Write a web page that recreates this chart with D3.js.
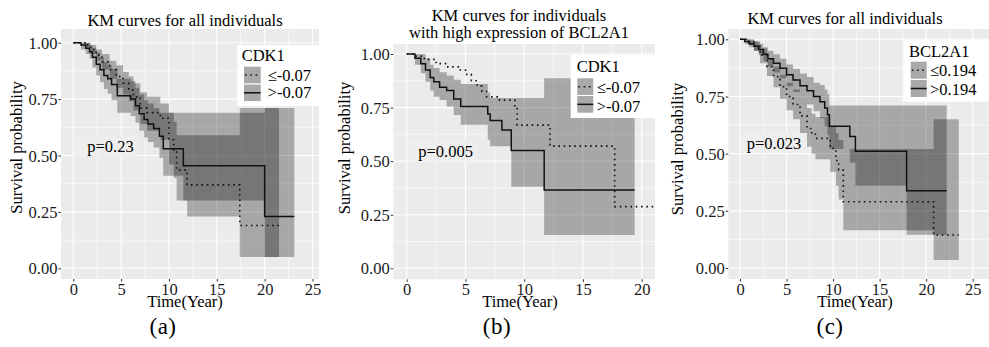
<!DOCTYPE html>
<html>
<head>
<meta charset="utf-8">
<script src="https://cdn.jsdelivr.net/npm/d3@7"></script>
<style>
  body { margin: 0; background: #fff; }
  svg { display: block; font-family: "Liberation Serif", "Times New Roman", serif; }
</style>
</head>
<body>
<svg id="chart" width="989" height="347"></svg>
<script>
// (a) CDK1 split, all individuals
const aLowT  = [0, 1.2, 1.8, 2.4, 3.0, 3.8, 4.5, 5.2, 5.8, 6.3, 7.0, 7.7, 9.1, 10.0, 10.5, 10.8, 11.9, 17.4];
const aLowS  = [1, 0.99, 0.97, 0.945, 0.915, 0.88, 0.85, 0.82, 0.79, 0.76, 0.71, 0.69, 0.665, 0.57, 0.525, 0.435, 0.37, 0.19];
const aLowLo = [1, 0.98, 0.95, 0.92, 0.88, 0.84, 0.80, 0.77, 0.74, 0.70, 0.64, 0.61, 0.57, 0.46, 0.40, 0.30, 0.23, 0.05];
const aLowHi = [1, 1, 0.99, 0.97, 0.95, 0.92, 0.90, 0.87, 0.85, 0.82, 0.78, 0.76, 0.73, 0.69, 0.65, 0.59, 0.59, 0.71];
const aLowEnd = 21.5;

const aHighT  = [0, 0.8, 1.3, 1.7, 2.0, 2.4, 2.8, 3.2, 3.6, 4.0, 4.6, 6.0, 6.5, 6.9, 7.4, 7.8, 8.4, 9.0, 9.4, 11.5, 20.0];
const aHighS  = [1, 0.99, 0.975, 0.96, 0.935, 0.905, 0.88, 0.855, 0.84, 0.815, 0.765, 0.75, 0.72, 0.685, 0.66, 0.64, 0.62, 0.585, 0.53, 0.455, 0.23];
const aHighLo = [1, 0.97, 0.95, 0.93, 0.89, 0.855, 0.825, 0.795, 0.775, 0.745, 0.69, 0.675, 0.645, 0.61, 0.58, 0.56, 0.535, 0.49, 0.41, 0.30, 0.05];
const aHighHi = [1, 1, 1, 0.99, 0.975, 0.955, 0.935, 0.915, 0.90, 0.885, 0.84, 0.83, 0.80, 0.77, 0.745, 0.73, 0.71, 0.69, 0.69, 0.69, 0.71];
const aHighEnd = 23.1;

// (b) CDK1 split, high BCL2A1 only
const bLowT = [0, 0.6, 1.5, 2.5, 3.5, 4.4, 5.0, 5.5, 6.0, 6.4, 6.8, 7.9, 9.2, 9.4, 12.2, 17.7];
const bLowS = [1, 0.99, 0.975, 0.955, 0.94, 0.925, 0.905, 0.875, 0.85, 0.825, 0.80, 0.785, 0.755, 0.668, 0.57, 0.288];
const bLowEnd = 21.6;

const bHighT  = [0, 0.7, 1.2, 1.6, 2.0, 2.3, 2.8, 3.4, 4.0, 4.6, 6.9, 7.1, 8.1, 8.9, 11.7];
const bHighS  = [1, 0.98, 0.955, 0.925, 0.89, 0.87, 0.845, 0.83, 0.79, 0.755, 0.72, 0.69, 0.645, 0.55, 0.365];
const bHighLo = [1, 0.95, 0.91, 0.87, 0.83, 0.80, 0.785, 0.755, 0.715, 0.67, 0.60, 0.57, 0.57, 0.38, 0.155];
const bHighHi = [1, 1, 1, 0.98, 0.95, 0.935, 0.915, 0.90, 0.88, 0.86, 0.82, 0.795, 0.795, 0.795, 0.887];
const bHighEnd = 19.4;

// (c) BCL2A1 split, all individuals
const cLowT  = [0, 0.8, 1.5, 2.15, 2.9, 3.6, 4.3, 5.0, 5.7, 6.45, 7.2, 7.7, 8.1, 9.7, 10.3, 10.6, 11.1, 20.8];
const cLowS  = [1, 0.99, 0.97, 0.93, 0.88, 0.837, 0.793, 0.75, 0.715, 0.665, 0.61, 0.585, 0.567, 0.523, 0.47, 0.428, 0.29, 0.144];
const cLowLo = [1, 0.975, 0.95, 0.895, 0.84, 0.79, 0.74, 0.69, 0.65, 0.59, 0.53, 0.50, 0.475, 0.42, 0.36, 0.30, 0.165, 0.035];
const cLowHi = [1, 1, 0.99, 0.96, 0.915, 0.88, 0.845, 0.81, 0.78, 0.74, 0.70, 0.675, 0.66, 0.62, 0.59, 0.56, 0.52, 0.65];
const cLowEnd = 23.5;

const cHighT  = [0, 0.5, 1.0, 1.5, 2.0, 2.5, 3.0, 3.6, 4.3, 5.0, 5.7, 6.45, 7.2, 7.9, 8.6, 9.1, 9.4, 9.6, 11.8, 12.4, 17.9];
const cHighS  = [1, 0.99, 0.98, 0.97, 0.955, 0.935, 0.915, 0.895, 0.873, 0.845, 0.822, 0.797, 0.775, 0.75, 0.727, 0.70, 0.67, 0.62, 0.575, 0.51, 0.338];
const cHighLo = [1, 0.98, 0.965, 0.95, 0.93, 0.905, 0.88, 0.855, 0.83, 0.795, 0.77, 0.74, 0.715, 0.685, 0.655, 0.62, 0.58, 0.52, 0.46, 0.36, 0.145];
const cHighHi = [1, 1, 0.995, 0.99, 0.98, 0.965, 0.95, 0.935, 0.915, 0.89, 0.87, 0.85, 0.835, 0.81, 0.80, 0.78, 0.76, 0.71, 0.71, 0.71, 0.71];
const cHighEnd = 22.2;

const yTicks = [0, 0.25, 0.5, 0.75, 1];
const yTickLabels = ['0.00', '0.25', '0.50', '0.75', '1.00'];
const xTicksA = [0, 5, 10, 15, 20, 25];
const xTicksB = [0, 5, 10, 15, 20];

const panels = [
  {
    sub: '(a)', title: ['KM curves for all individuals'], titleY: [25.5], titleX: 185,
    legendTitle: 'CDK1', labels: ['\u2264-0.07', '>-0.07'], p: 'p=0.23', pPos: [87.3, 151.7],
    groups: [
      { t: aLowT, s: aLowS, lo: aLowLo, hi: aLowHi, end: aLowEnd, dotted: true },
      { t: aHighT, s: aHighS, lo: aHighLo, hi: aHighHi, end: aHighEnd, dotted: false }
    ],
    xTicks: xTicksA, box: [61, 319, 29, 279], xr: [73.3, 312.5], yr: [268.3, 42.7],
    yLab: [17, 147.5], xLabX: 185, subX: 163,
    leg: { x: 237.3, y: 45, w: 82, h: 61, tx: 241.7, ty: 61, kx: 244, kw: 16.7, ky: [66.7, 84.5], kh: 16.6, lx: 267.7, ly: [81, 98.3] }
  },
  {
    sub: '(b)', title: ['KM curves for individuals', 'with high expression of BCL2A1'], titleY: [20.7, 38.3], titleX: 519,
    legendTitle: 'CDK1', labels: ['\u2264-0.07', '>-0.07'], p: 'p=0.005', pPos: [418.3, 157.3],
    groups: [
      { t: bLowT, s: bLowS, lo: null, hi: null, end: bLowEnd, dotted: true },
      { t: bHighT, s: bHighS, lo: bHighLo, hi: bHighHi, end: bHighEnd, dotted: false }
    ],
    xTicks: xTicksB, box: [393.3, 655, 44, 279.3], xr: [406.7, 641.7], yr: [268.3, 54],
    yLab: [345, 148], xLabX: 520, subX: 497,
    leg: { x: 570.7, y: 55, w: 84.3, h: 63, tx: 576.7, ty: 71.7, kx: 577.3, kw: 16, ky: [78.3, 96], kh: 16.7, lx: 596.7, ly: [93.3, 111.7] }
  },
  {
    sub: '(c)', title: ['KM curves for all individuals'], titleY: [24], titleX: 845,
    legendTitle: 'BCL2A1', labels: ['\u22640.194', '>0.194'], p: 'p=0.023', pPos: [746.7, 149.3],
    groups: [
      { t: cLowT, s: cLowS, lo: cLowLo, hi: cLowHi, end: cLowEnd, dotted: true },
      { t: cHighT, s: cHighS, lo: cHighLo, hi: cHighHi, end: cHighEnd, dotted: false }
    ],
    xTicks: xTicksA, box: [728.3, 989, 29, 279], xr: [740, 972.7], yr: [268, 39.3],
    yLab: [678, 149], xLabX: 855, subX: 830,
    leg: { x: 903.3, y: 40, w: 85.7, h: 61.7, tx: 909, ty: 56.7, kx: 910.7, kw: 16, ky: [61.7, 80], kh: 17, lx: 930, ly: [76, 95] }
  }
];

const svg = d3.select('#chart');
const fs = 16.5;
const serif = '"Liberation Serif", "Times New Roman", serif';
const ribbonOpacity = 0.29;
const keyFill = '#a9a9a9';

panels.forEach((p, pi) => {
  const [x0, x1, y0, y1] = p.box;
  const maxT = p.xTicks[p.xTicks.length - 1];
  const x = d3.scaleLinear().domain([0, maxT]).range(p.xr);
  const y = d3.scaleLinear().domain([0, 1]).range(p.yr);
  const g = svg.append('g').attr('font-family', serif);

  g.append('clipPath').attr('id', `clip${pi}`)
    .append('rect').attr('x', x0).attr('y', y0).attr('width', x1 - x0).attr('height', y1 - y0);

  g.append('rect')
    .attr('x', x0).attr('y', y0).attr('width', x1 - x0).attr('height', y1 - y0)
    .attr('fill', '#ebebeb');

  // grid, minor first then major
  const tMin = x.invert(x0), tMax = x.invert(x1);
  const minorX = d3.range(-2.5, tMax, 5).filter((v) => v > tMin);
  const minorY = [0.125, 0.375, 0.625, 0.875];
  const grid = g.append('g').attr('stroke', '#fff');
  grid.selectAll('.mx').data(minorX).join('line')
    .attr('x1', (d) => x(d)).attr('x2', (d) => x(d)).attr('y1', y0).attr('y2', y1)
    .attr('stroke-width', 0.6);
  grid.selectAll('.my').data(minorY).join('line')
    .attr('x1', x0).attr('x2', x1).attr('y1', (d) => y(d)).attr('y2', (d) => y(d))
    .attr('stroke-width', 0.6);
  grid.selectAll('.Mx').data(p.xTicks).join('line')
    .attr('x1', (d) => x(d)).attr('x2', (d) => x(d)).attr('y1', y0).attr('y2', y1)
    .attr('stroke-width', 1.1);
  grid.selectAll('.My').data(yTicks).join('line')
    .attr('x1', x0).attr('x2', x1).attr('y1', (d) => y(d)).attr('y2', (d) => y(d))
    .attr('stroke-width', 1.1);

  // p-value label background (hides the grid, like the reference)
  g.append('rect')
    .attr('x', x(0) + 0.5).attr('y', p.pPos[1] - 17)
    .attr('width', p.pPos[0] - x(0) + p.p.length * 8.3).attr('height', 21)
    .attr('fill', '#eeeeee');

  const plot = g.append('g').attr('clip-path', `url(#clip${pi})`);

  const area = d3.area().curve(d3.curveStepAfter)
    .x((d) => x(d.t)).y0((d) => y(d.lo)).y1((d) => y(d.hi));
  const line = d3.line().curve(d3.curveStepAfter)
    .x((d) => x(d.t)).y((d) => y(d.s));

  p.groups.forEach((grp) => {
    const pts = grp.t.map((t, i) => ({ t, s: grp.s[i], lo: grp.lo ? grp.lo[i] : 0, hi: grp.hi ? grp.hi[i] : 0 }));
    const last = pts[pts.length - 1];
    pts.push({ t: grp.end, s: last.s, lo: last.lo, hi: last.hi });
    grp.pts = pts;
    if (grp.lo) {
      plot.append('path').attr('d', area(pts))
        .attr('fill', '#000').attr('fill-opacity', ribbonOpacity);
    }
  });
  p.groups.forEach((grp) => {
    plot.append('path').attr('d', line(grp.pts))
      .attr('fill', 'none').attr('stroke', '#111')
      .attr('stroke-width', grp.dotted ? 1.6 : 1.5)
      .attr('stroke-dasharray', grp.dotted ? '1.6 3.7' : null);
  });

  // axes
  const yAxis = g.append('g').attr('transform', `translate(${x0},0)`)
    .call(d3.axisLeft(y).tickValues(yTicks).tickFormat((d, i) => yTickLabels[i]).tickSize(2.6).tickPadding(1));
  const xAxis = g.append('g').attr('transform', `translate(0,${y1})`)
    .call(d3.axisBottom(x).tickValues(p.xTicks).tickSize(2.6).tickPadding(1));
  [yAxis, xAxis].forEach((ax) => {
    ax.attr('font-family', serif).attr('font-size', fs);
    ax.select('.domain').remove();
    ax.selectAll('.tick line').attr('stroke', '#333').attr('stroke-width', 1);
    ax.selectAll('.tick text').attr('fill', '#1a1a1a');
  });
  yAxis.selectAll('.tick text').attr('dy', '0.34em');
  xAxis.selectAll('.tick text').attr('dy', null).attr('y', 16);

  // titles
  p.title.forEach((t, i) => {
    g.append('text').attr('x', p.titleX).attr('y', p.titleY[i])
      .attr('text-anchor', 'middle').attr('font-size', fs).attr('fill', '#000').text(t);
  });
  g.append('text')
    .attr('transform', `translate(${p.yLab[0]},${p.yLab[1]}) rotate(-90)`)
    .attr('dy', '0.33em').attr('text-anchor', 'middle').attr('font-size', fs).text('Survival probability');
  g.append('text').attr('x', p.xLabX).attr('y', 307)
    .attr('text-anchor', 'middle').attr('font-size', fs).text('Time(Year)');
  g.append('text').attr('x', p.subX).attr('y', 334)
    .attr('text-anchor', 'middle').attr('font-size', 23).attr('letter-spacing', 0.5).text(p.sub);

  g.append('text').attr('x', p.pPos[0]).attr('y', p.pPos[1])
    .attr('font-size', fs).text(p.p);

  // legend
  const L = p.leg;
  const leg = g.append('g');
  leg.append('rect').attr('x', L.x).attr('y', L.y).attr('width', L.w).attr('height', L.h).attr('fill', '#fff');
  leg.append('text').attr('x', L.tx).attr('y', L.ty).attr('font-size', fs).text(p.legendTitle);
  p.groups.forEach((grp, i) => {
    leg.append('rect').attr('x', L.kx).attr('y', L.ky[i]).attr('width', L.kw).attr('height', L.kh).attr('fill', keyFill);
    leg.append('line')
      .attr('x1', L.kx + (grp.dotted ? 1 : 0)).attr('x2', L.kx + L.kw)
      .attr('y1', L.ky[i] + L.kh / 2).attr('y2', L.ky[i] + L.kh / 2)
      .attr('stroke', '#111').attr('stroke-width', 1.5)
      .attr('stroke-dasharray', grp.dotted ? '1.6 3.7' : null);
    leg.append('text').attr('x', L.lx).attr('y', L.ly[i]).attr('font-size', fs).text(p.labels[i]);
  });
});
</script>
</body>
</html>
